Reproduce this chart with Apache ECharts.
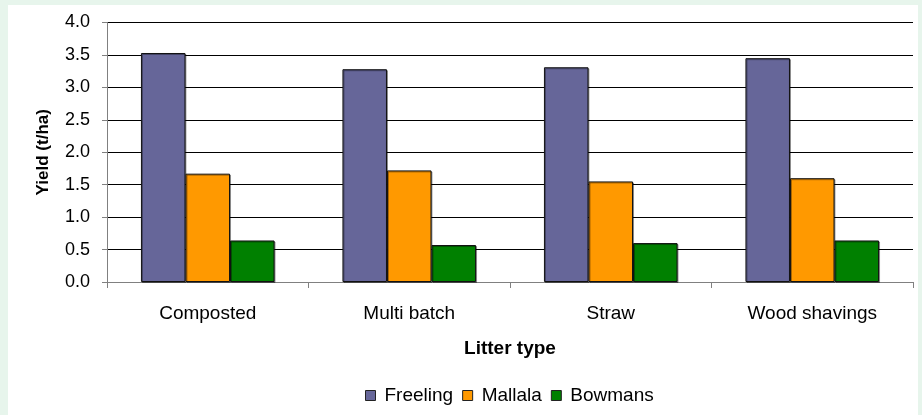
<!DOCTYPE html>
<html><head><meta charset="utf-8">
<script src="https://cdn.jsdelivr.net/npm/echarts@6/dist/echarts.min.js"></script>
<style>html,body{margin:0;padding:0;background:#e7f5ec;}#c{width:922px;height:415px;}</style>
</head><body><div id="c"></div>
<script>
const categories = ['Composted', 'Multi batch', 'Straw', 'Wood shavings'];
const freeling = [3.53, 3.28, 3.31, 3.45];
const mallala = [1.67, 1.72, 1.55, 1.60];
const bowmans = [0.64, 0.57, 0.60, 0.64];
const yTicks = [0, 0.5, 1, 1.5, 2, 2.5, 3, 3.5, 4];

const font = 'Arial, "Liberation Sans", sans-serif';
const chart = echarts.init(document.getElementById('c'));
const barStyle = c => ({color: c, borderColor: '#111', borderWidth: 1, shadowColor: 'rgba(0,0,0,0.35)', shadowOffsetX: 1, shadowOffsetY: 1});
chart.setOption({
  backgroundColor: '#e7f5ec',
  animation: false,
  graphic: [{type: 'rect', z: -10, shape: {x: 8, y: 5, width: 910, height: 415}, style: {fill: '#ffffff'}}],
  textStyle: {fontFamily: font},
  grid: {left: 107, right: 9, top: 22.5, bottom: 133, containLabel: false},
  legend: {
    bottom: 5, left: 360, itemWidth: 10, itemHeight: 10, itemGap: 9,
    icon: 'rect',
    textStyle: {fontFamily: font, fontSize: 19, color: '#000', padding: [0, 0, 0, 4]},
    itemStyle: {borderColor: '#222', borderWidth: 1},
    data: ['Freeling', 'Mallala', 'Bowmans']
  },
  xAxis: {
    type: 'category', data: categories,
    name: 'Litter type', nameLocation: 'middle', nameGap: 57,
    nameTextStyle: {fontFamily: font, fontSize: 19, fontWeight: 'bold', color: '#000'},
    axisLine: {lineStyle: {color: '#808080', width: 1}},
    axisTick: {show: true, length: 6, lineStyle: {color: '#808080'}},
    axisLabel: {fontFamily: font, fontSize: 19, color: '#000', margin: 22}
  },
  yAxis: {
    type: 'value', min: 0, max: 4, interval: 0.5,
    name: 'Yield (t/ha)', nameLocation: 'middle', nameGap: 55,
    nameTextStyle: {fontFamily: font, fontSize: 17, fontWeight: 'bold', color: '#000'},
    axisLine: {show: true, lineStyle: {color: '#808080', width: 1}},
    axisTick: {show: true, length: 5, lineStyle: {color: '#808080'}},
    splitLine: {lineStyle: {color: '#000', width: 1}},
    axisLabel: {fontFamily: font, fontSize: 18, color: '#000', margin: 17,
      formatter: v => yTicks.includes(v) ? v.toFixed(1) : ''}
  },
  series: [
    {name: 'Freeling', type: 'bar', data: freeling, barGap: '0%', barCategoryGap: '33.7%', itemStyle: barStyle('#666699')},
    {name: 'Mallala', type: 'bar', data: mallala, itemStyle: barStyle('#FF9900')},
    {name: 'Bowmans', type: 'bar', data: bowmans, itemStyle: barStyle('#008000')}
  ]
});
</script></body></html>
